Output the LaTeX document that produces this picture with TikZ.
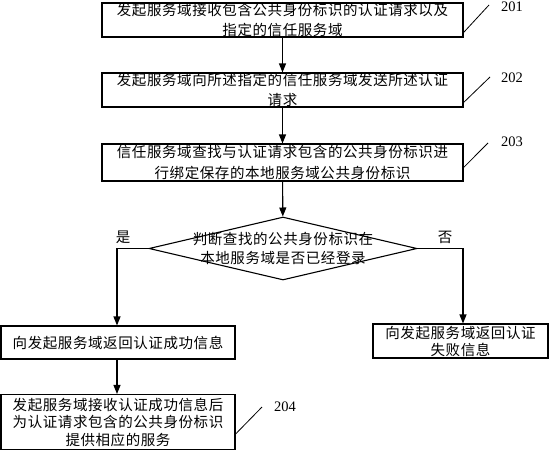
\documentclass[tikz,border=0pt]{standalone}
\usepackage{fontspec}
\setmainfont{Liberation Serif}
\newfontfamily\cjk[LetterSpace=4]{Noto Sans CJK SC}
\usetikzlibrary{arrows.meta,shapes.geometric}
\begin{document}
\begin{tikzpicture}[x=1pt,y=-1pt,
  box/.style={draw,line width=1.1pt,rectangle,inner sep=0pt,align=center,
    font=\cjk\fontsize{14.5}{20.5}\selectfont},
  dec/.style={draw,line width=1.1pt,diamond,inner sep=0pt,minimum width=268pt,minimum height=63pt},
  txt/.style={inner sep=0pt,align=center,font=\cjk\fontsize{14.5}{19}\selectfont},
  flow/.style={line width=1.1pt,-{Triangle[length=9pt,width=7pt]}},
  lead/.style={line width=0.8pt},
  num/.style={inner sep=0pt,font=\fontsize{14.5}{16}\selectfont}]
\useasboundingbox (0,0) rectangle (551,450);
% boxes
\node[box,minimum width=361pt,minimum height=34pt] (b1) at (282.5,20)
  {发起服务域接收包含公共身份标识的认证请求以及\\指定的信任服务域};
\node[box,minimum width=361pt,minimum height=34pt] (b2) at (282.5,90)
  {发起服务域向所述指定的信任服务域发送所述认证\\请求};
\node[box,minimum width=361pt,minimum height=37pt] (b3) at (282.5,162.5)
  {信任服务域查找与认证请求包含的公共身份标识进\\行绑定保存的本地服务域公共身份标识};
\node[dec] (d) at (283,248.5) {};
\node[txt] (dt) at (283,248) {判断查找的公共身份标识在\\本地服务域是否已经登录};
\node[box,minimum width=234pt,minimum height=33pt] (b4) at (118,342.5)
  {向发起服务域返回认证成功信息};
\node[box,minimum width=234pt,minimum height=55pt,font=\cjk\fontsize{14.5}{17.5}\selectfont] (b5) at (118,422)
  {发起服务域接收认证成功信息后\\为认证请求包含的公共身份标识\\提供相应的服务};
\node[box,minimum width=175pt,minimum height=34pt,font=\cjk\fontsize{14.5}{17}\selectfont] (b6) at (460.5,341)
  {向发起服务域返回认证\\失败信息};
% yes / no labels
\node[txt] (yes) at (123,237) {是};
\node[txt] (no) at (445,237) {否};
% flow arrows
\draw[flow] (b1) -- (b2);
\draw[flow] (b2) -- (b3);
\draw[flow] (b3) -- (d);
\draw[flow] (d.west) -| ([xshift=-1pt]b4.north);
\draw[flow] (d.east) -| ([xshift=2.5pt]b6.north);
\draw[flow] ([xshift=-1pt]b4.south) -- ([xshift=-1pt]b5.north);
% reference numbers
\node[num] (n1) at (512,7) {201};
\node[num] (n2) at (512,78) {202};
\node[num] (n3) at (512,142) {203};
\node[num] (n4) at (285,407) {204};
\coordinate (t1) at (489,5);
\coordinate (t2) at (490,77);
\coordinate (t3) at (488,143);
\coordinate (t4) at (262,407);
\draw[lead] ([yshift=5pt]b1.south east) -- (t1);
\draw[lead] ([yshift=5pt]b2.south east) -- (t2);
\draw[lead] ([yshift=14pt]b3.south east) -- (t3);
\draw[lead] ([yshift=16pt]b5.south east) -- (t4);
\end{tikzpicture}
\end{document}
